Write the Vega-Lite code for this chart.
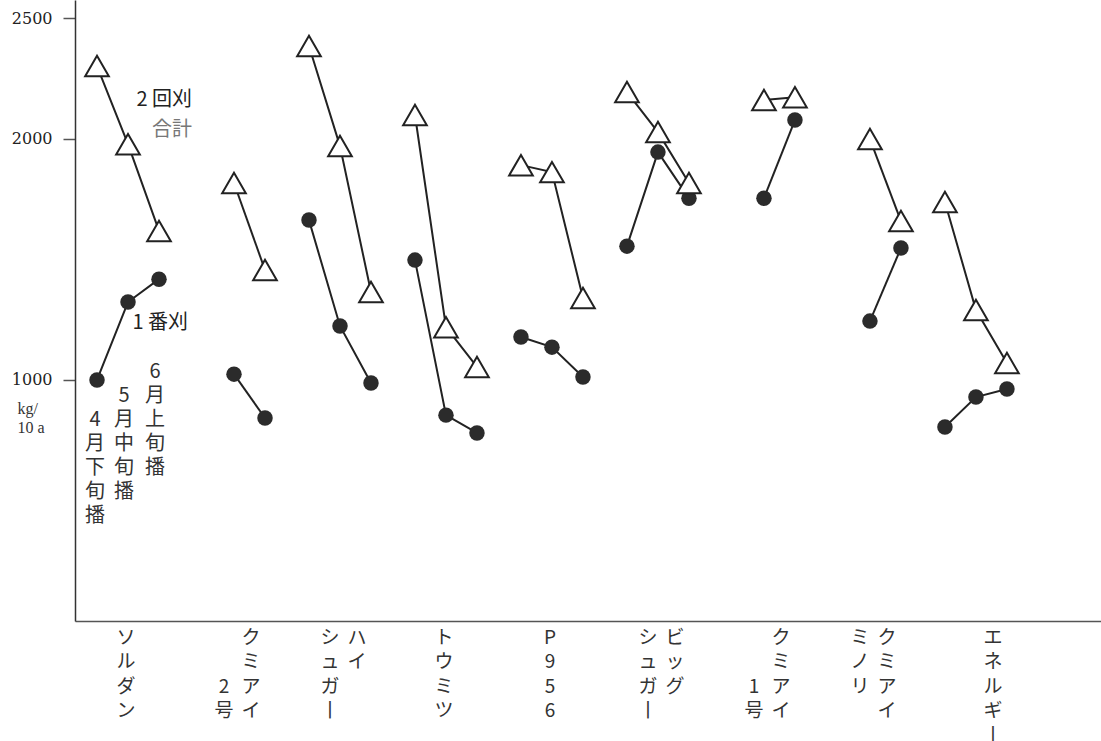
{
  "$schema": "https://vega.github.io/schema/vega-lite/v6.json",
  "width": 1026,
  "height": 621,
  "autosize": {"type": "none"},
  "padding": {"left": 75, "top": 0, "right": 0, "bottom": 120},
  "background": "white",
  "config": {"view": {"stroke": null}, "font": "DejaVu Serif"},
  "datasets": {
    "yield": [
      {"品種": "ソルダン", "播種期": "4月下旬播", "刈取": "2回刈合計", "収量": 2302},
      {"品種": "ソルダン", "播種期": "5月中旬播", "刈取": "2回刈合計", "収量": 1978},
      {"品種": "ソルダン", "播種期": "6月上旬播", "刈取": "2回刈合計", "収量": 1618},
      {"品種": "ソルダン", "播種期": "4月下旬播", "刈取": "1番刈", "収量": 1000},
      {"品種": "ソルダン", "播種期": "5月中旬播", "刈取": "1番刈", "収量": 1323},
      {"品種": "ソルダン", "播種期": "6月上旬播", "刈取": "1番刈", "収量": 1418},
      {"品種": "クミアイ2号", "播種期": "5月中旬播", "刈取": "2回刈合計", "収量": 1817},
      {"品種": "クミアイ2号", "播種期": "6月上旬播", "刈取": "2回刈合計", "収量": 1456},
      {"品種": "クミアイ2号", "播種期": "5月中旬播", "刈取": "1番刈", "収量": 1024},
      {"品種": "クミアイ2号", "播種期": "6月上旬播", "刈取": "1番刈", "収量": 842},
      {"品種": "ハイシュガー", "播種期": "4月下旬播", "刈取": "2回刈合計", "収量": 2385},
      {"品種": "ハイシュガー", "播種期": "5月中旬播", "刈取": "2回刈合計", "収量": 1970},
      {"品種": "ハイシュガー", "播種期": "6月上旬播", "刈取": "2回刈合計", "収量": 1365},
      {"品種": "ハイシュガー", "播種期": "4月下旬播", "刈取": "1番刈", "収量": 1663},
      {"品種": "ハイシュガー", "播種期": "5月中旬播", "刈取": "1番刈", "収量": 1224},
      {"品種": "ハイシュガー", "播種期": "6月上旬播", "刈取": "1番刈", "収量": 987},
      {"品種": "トウミツ", "播種期": "4月下旬播", "刈取": "2回刈合計", "収量": 2099},
      {"品種": "トウミツ", "播種期": "5月中旬播", "刈取": "2回刈合計", "収量": 1219},
      {"品種": "トウミツ", "播種期": "6月上旬播", "刈取": "2回刈合計", "収量": 1054},
      {"品種": "トウミツ", "播種期": "4月下旬播", "刈取": "1番刈", "収量": 1497},
      {"品種": "トウミツ", "播種期": "5月中旬播", "刈取": "1番刈", "収量": 854},
      {"品種": "トウミツ", "播種期": "6月上旬播", "刈取": "1番刈", "収量": 780},
      {"品種": "P956", "播種期": "4月下旬播", "刈取": "2回刈合計", "収量": 1891},
      {"品種": "P956", "播種期": "5月中旬播", "刈取": "2回刈合計", "収量": 1862},
      {"品種": "P956", "播種期": "6月上旬播", "刈取": "2回刈合計", "収量": 1340},
      {"品種": "P956", "播種期": "4月下旬播", "刈取": "1番刈", "収量": 1178},
      {"品種": "P956", "播種期": "5月中旬播", "刈取": "1番刈", "収量": 1136},
      {"品種": "P956", "播種期": "6月上旬播", "刈取": "1番刈", "収量": 1012},
      {"品種": "ビッグシュガー", "播種期": "4月下旬播", "刈取": "2回刈合計", "収量": 2194},
      {"品種": "ビッグシュガー", "播種期": "5月中旬播", "刈取": "2回刈合計", "収量": 2028},
      {"品種": "ビッグシュガー", "播種期": "6月上旬播", "刈取": "2回刈合計", "収量": 1817},
      {"品種": "ビッグシュガー", "播種期": "4月下旬播", "刈取": "1番刈", "収量": 1555},
      {"品種": "ビッグシュガー", "播種期": "5月中旬播", "刈取": "1番刈", "収量": 1945},
      {"品種": "ビッグシュガー", "播種期": "6月上旬播", "刈取": "1番刈", "収量": 1754},
      {"品種": "クミアイ1号", "播種期": "5月中旬播", "刈取": "2回刈合計", "収量": 2161},
      {"品種": "クミアイ1号", "播種期": "6月上旬播", "刈取": "2回刈合計", "収量": 2173},
      {"品種": "クミアイ1号", "播種期": "5月中旬播", "刈取": "1番刈", "収量": 1754},
      {"品種": "クミアイ1号", "播種期": "6月上旬播", "刈取": "1番刈", "収量": 2078},
      {"品種": "クミアイミノリ", "播種期": "5月中旬播", "刈取": "2回刈合計", "収量": 1999},
      {"品種": "クミアイミノリ", "播種期": "6月上旬播", "刈取": "2回刈合計", "収量": 1659},
      {"品種": "クミアイミノリ", "播種期": "5月中旬播", "刈取": "1番刈", "収量": 1244},
      {"品種": "クミアイミノリ", "播種期": "6月上旬播", "刈取": "1番刈", "収量": 1547},
      {"品種": "エネルギー", "播種期": "4月下旬播", "刈取": "2回刈合計", "収量": 1738},
      {"品種": "エネルギー", "播種期": "5月中旬播", "刈取": "2回刈合計", "収量": 1290},
      {"品種": "エネルギー", "播種期": "6月上旬播", "刈取": "2回刈合計", "収量": 1070},
      {"品種": "エネルギー", "播種期": "4月下旬播", "刈取": "1番刈", "収量": 805},
      {"品種": "エネルギー", "播種期": "5月中旬播", "刈取": "1番刈", "収量": 929},
      {"品種": "エネルギー", "播種期": "6月上旬播", "刈取": "1番刈", "収量": 962}
    ],
    "names": [
      {"品種": "ソルダン", "列": "中", "表記": "ソ\nル\nダ\nン"},
      {"品種": "クミアイ2号", "列": "右", "表記": "ク\nミ\nア\nイ"},
      {"品種": "クミアイ2号", "列": "左下", "表記": "2\n号"},
      {"品種": "ハイシュガー", "列": "右", "表記": "ハ\nイ"},
      {"品種": "ハイシュガー", "列": "左", "表記": "シ\nュ\nガ\n丨"},
      {"品種": "トウミツ", "列": "中", "表記": "ト\nウ\nミ\nツ"},
      {"品種": "P956", "列": "中", "表記": "P\n9\n5\n6"},
      {"品種": "ビッグシュガー", "列": "右", "表記": "ビ\nッ\nグ"},
      {"品種": "ビッグシュガー", "列": "左", "表記": "シ\nュ\nガ\n丨"},
      {"品種": "クミアイ1号", "列": "右", "表記": "ク\nミ\nア\nイ"},
      {"品種": "クミアイ1号", "列": "左下", "表記": "1\n号"},
      {"品種": "クミアイミノリ", "列": "右", "表記": "ク\nミ\nア\nイ"},
      {"品種": "クミアイミノリ", "列": "左", "表記": "ミ\nノ\nリ"},
      {"品種": "エネルギー", "列": "右", "表記": "エ\nネ\nル\nギ\n丨"}
    ],
    "sowlabels": [
      {"品種": "ソルダン", "播種期": "4月下旬播", "表記": "4\n月\n下\n旬\n播"},
      {"品種": "ソルダン", "播種期": "5月中旬播", "表記": "5\n月\n中\n旬\n播"},
      {"品種": "ソルダン", "播種期": "6月上旬播", "表記": "6\n月\n上\n旬\n播"}
    ]
  },
  "layer": [
    {
      "data": {"name": "yield"},
      "mark": {"type": "line", "color": "#222", "strokeWidth": 2},
      "encoding": {
        "x": {
          "field": "品種", "type": "nominal",
          "scale": {"domain": ["ソルダン", "クミアイ2号", "ハイシュガー", "トウミツ", "P956", "ビッグシュガー", "クミアイ1号", "クミアイミノリ", "エネルギー"], "paddingInner": 0, "paddingOuter": 0.34, "align": 0},
          "axis": {"labels": false, "ticks": false, "title": null, "domainColor": "#555", "domainWidth": 1.5}
        },
        "xOffset": {"field": "播種期", "type": "nominal", "scale": {"type": "point", "domain": ["4月下旬播", "5月中旬播", "6月上旬播"], "range": [22, 84], "padding": 0}},
        "y": {
          "field": "収量", "type": "quantitative",
          "scale": {"domain": [0, 2576], "nice": false, "zero": false},
          "axis": {
            "values": [1000, 2000, 2500], "format": "d", "grid": false, "tickSize": 12, "tickColor": "#555", "tickWidth": 1.5,
            "domainColor": "#333", "domainWidth": 1.5, "labelPadding": 11, "labelFontSize": 16, "labelFontWeight": "normal",
            "labelColor": "#222", "labelFont": "DejaVu Serif",
            "title": ["kg/", "\u00a0\u00a0\u00a0\u00a0\u00a010 a"], "titleAngle": 0, "titleAlign": "left", "titleBaseline": "top",
            "titleX": -58, "titleY": 400, "titleFontSize": 16, "titleFontWeight": "normal",
            "titleFont": "Liberation Serif", "titleColor": "#333", "titleLineHeight": 19
          }
        },
        "detail": [{"field": "品種"}, {"field": "刈取"}],
        "order": {"field": "播種期"}
      }
    },
    {
      "data": {"name": "yield"},
      "transform": [{"filter": "datum['刈取'] === '1番刈'"}],
      "mark": {"type": "point", "shape": "circle", "filled": true, "color": "#2b2b2b", "size": 240, "opacity": 1},
      "encoding": {
        "x": {"field": "品種", "type": "nominal"},
        "xOffset": {"field": "播種期", "type": "nominal"},
        "y": {"field": "収量", "type": "quantitative"}
      }
    },
    {
      "data": {"name": "yield"},
      "transform": [{"filter": "datum['刈取'] === '2回刈合計'"}],
      "mark": {"type": "point", "shape": "triangle-up", "filled": true, "fill": "white", "stroke": "#222", "strokeWidth": 2, "size": 560, "opacity": 1},
      "encoding": {
        "x": {"field": "品種", "type": "nominal"},
        "xOffset": {"field": "播種期", "type": "nominal"},
        "y": {"field": "収量", "type": "quantitative"}
      }
    },
    {
      "data": {"name": "names"},
      "transform": [{"filter": "datum['列'] === '中'"}],
      "mark": {"type": "text", "font": "Noto Sans CJK JP", "fontSize": 19, "color": "#333", "baseline": "top", "align": "center", "lineBreak": "\n", "lineHeight": 24.5, "dx": -2},
      "encoding": {
        "x": {"field": "品種", "type": "nominal"},
        "y": {"datum": -33, "type": "quantitative"},
        "text": {"field": "表記"}
      }
    },
    {
      "data": {"name": "names"},
      "transform": [{"filter": "datum['列'] === '右'"}],
      "mark": {"type": "text", "font": "Noto Sans CJK JP", "fontSize": 19, "color": "#333", "baseline": "top", "align": "center", "lineBreak": "\n", "lineHeight": 24.5, "dx": 17},
      "encoding": {
        "x": {"field": "品種", "type": "nominal"},
        "y": {"datum": -33, "type": "quantitative"},
        "text": {"field": "表記"}
      }
    },
    {
      "data": {"name": "names"},
      "transform": [{"filter": "datum['列'] === '左'"}],
      "mark": {"type": "text", "font": "Noto Sans CJK JP", "fontSize": 19, "color": "#333", "baseline": "top", "align": "center", "lineBreak": "\n", "lineHeight": 24.5, "dx": -10},
      "encoding": {
        "x": {"field": "品種", "type": "nominal"},
        "y": {"datum": -33, "type": "quantitative"},
        "text": {"field": "表記"}
      }
    },
    {
      "data": {"name": "names"},
      "transform": [{"filter": "datum['列'] === '左下'"}],
      "mark": {"type": "text", "font": "Noto Sans CJK JP", "fontSize": 19, "color": "#333", "baseline": "top", "align": "center", "lineBreak": "\n", "lineHeight": 24.5, "dx": -10, "dy": 49},
      "encoding": {
        "x": {"field": "品種", "type": "nominal"},
        "y": {"datum": -33, "type": "quantitative"},
        "text": {"field": "表記"}
      }
    },
    {
      "data": {"name": "sowlabels"},
      "transform": [{"filter": "datum['播種期'] === '6月上旬播'"}],
      "mark": {"type": "text", "font": "Noto Sans CJK JP", "fontSize": 20, "color": "#333", "baseline": "top", "align": "center", "lineBreak": "\n", "lineHeight": 24, "dx": -4, "dy": 2},
      "encoding": {
        "x": {"field": "品種", "type": "nominal"},
        "xOffset": {"field": "播種期", "type": "nominal"},
        "y": {"datum": 1083, "type": "quantitative"},
        "text": {"field": "表記"}
      }
    },
    {
      "data": {"name": "sowlabels"},
      "transform": [{"filter": "datum['播種期'] === '5月中旬播'"}],
      "mark": {"type": "text", "font": "Noto Sans CJK JP", "fontSize": 20, "color": "#333", "baseline": "top", "align": "center", "lineBreak": "\n", "lineHeight": 24, "dx": -4, "dy": 26},
      "encoding": {
        "x": {"field": "品種", "type": "nominal"},
        "xOffset": {"field": "播種期", "type": "nominal"},
        "y": {"datum": 1083, "type": "quantitative"},
        "text": {"field": "表記"}
      }
    },
    {
      "data": {"name": "sowlabels"},
      "transform": [{"filter": "datum['播種期'] === '4月下旬播'"}],
      "mark": {"type": "text", "font": "Noto Sans CJK JP", "fontSize": 20, "color": "#333", "baseline": "top", "align": "center", "lineBreak": "\n", "lineHeight": 24, "dx": -2, "dy": 50},
      "encoding": {
        "x": {"field": "品種", "type": "nominal"},
        "xOffset": {"field": "播種期", "type": "nominal"},
        "y": {"datum": 1083, "type": "quantitative"},
        "text": {"field": "表記"}
      }
    },
    {
      "data": {"values": [{"表記": "2 回刈"}]},
      "mark": {"type": "text", "font": "Noto Sans CJK JP", "fontSize": 20, "color": "#222", "baseline": "middle", "align": "right", "dx": 33},
      "encoding": {
        "x": {"datum": "ソルダン", "type": "nominal"},
        "xOffset": {"datum": "6月上旬播", "type": "nominal"},
        "y": {"datum": 2161, "type": "quantitative"},
        "text": {"field": "表記"}
      }
    },
    {
      "data": {"values": [{"表記": "合計"}]},
      "mark": {"type": "text", "font": "Noto Sans CJK JP", "fontSize": 20, "color": "#777", "baseline": "middle", "align": "right", "dx": 33},
      "encoding": {
        "x": {"datum": "ソルダン", "type": "nominal"},
        "xOffset": {"datum": "6月上旬播", "type": "nominal"},
        "y": {"datum": 2036, "type": "quantitative"},
        "text": {"field": "表記"}
      }
    },
    {
      "data": {"values": [{"表記": "1 番刈"}]},
      "mark": {"type": "text", "font": "Noto Sans CJK JP", "fontSize": 20, "color": "#222", "baseline": "middle", "align": "right", "dx": 29},
      "encoding": {
        "x": {"datum": "ソルダン", "type": "nominal"},
        "xOffset": {"datum": "6月上旬播", "type": "nominal"},
        "y": {"datum": 1236, "type": "quantitative"},
        "text": {"field": "表記"}
      }
    }
  ]
}
